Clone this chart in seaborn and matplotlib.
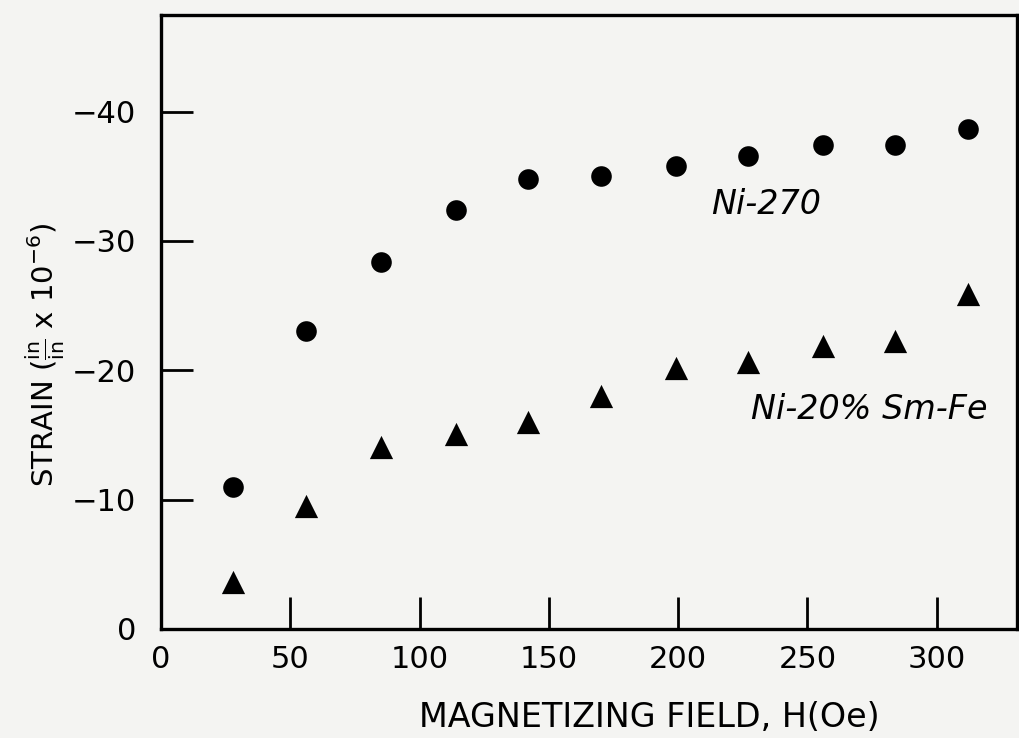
import matplotlib
matplotlib.use("Agg")
import matplotlib.pyplot as plt
import seaborn as sns
import pandas as pd

# Data
field_oe = [28, 56, 85, 114, 142, 170, 199, 227, 256, 284, 312]
ni270_strain = [-11.0, -23.0, -28.4, -32.4, -34.8, -35.0, -35.8, -36.6, -37.4, -37.4, -38.7]
nismfe_strain = [-3.6, -9.5, -14.1, -15.1, -16.0, -18.0, -20.2, -20.6, -21.9, -22.3, -25.9]
series_names = ["Ni-270", "Ni-20% Sm-Fe"]
x_ticks = [0, 50, 100, 150, 200, 250, 300]
y_ticks = [0, -10, -20, -30, -40]

df = pd.DataFrame({
    "H": field_oe * 2,
    "strain": ni270_strain + nismfe_strain,
    "series": [series_names[0]] * len(field_oe) + [series_names[1]] * len(field_oe),
})

sns.set_theme(style="white")
plt.rcParams["font.family"] = ["DejaVu Sans"]
plt.rcParams["text.color"] = "black"
plt.rcParams["axes.labelcolor"] = "black"
bg = "#f4f4f2"
fig = plt.figure(figsize=(10.19, 7.38), dpi=100, facecolor=bg)
ax = fig.add_axes([0.158, 0.148, 0.840, 0.832])
ax.set_facecolor(bg)

sns.scatterplot(data=df[df.series == series_names[0]], x="H", y="strain", ax=ax,
                marker="o", s=220, color="black", edgecolor="black", linewidth=0, legend=False)
sns.scatterplot(data=df[df.series == series_names[1]], x="H", y="strain", ax=ax,
                marker="^", s=280, color="black", edgecolor="black", linewidth=0, legend=False)

ax.set_xlim(0, 331)
ax.set_ylim(0, -47.5)
ax.set_xticks(x_ticks)
ax.set_yticks(y_ticks)
ax.set_xticklabels([str(v) for v in x_ticks])
ax.set_yticklabels(["0", "\u221210", "\u221220", "\u221230", "\u221240"])
ax.tick_params(axis="both", direction="in", length=23, width=2.0, colors="black",
               labelsize=22, bottom=True, left=True)
ax.tick_params(axis="x", pad=12)
ax.tick_params(axis="y", pad=18)
for sp in ax.spines.values():
    sp.set_visible(True)
    sp.set_color("black")
    sp.set_linewidth(2.4)

ax.set_xlabel("MAGNETIZING FIELD, H(Oe)", fontsize=24, color="black", va="center")
ax.xaxis.set_label_coords(0.571, -0.145)
ax.set_ylabel(r"STRAIN ($\frac{\mathrm{in}}{\mathrm{in}}$ x 10$^{-6}$)", fontsize=21,
              color="black", va="center")
ax.yaxis.set_label_coords(-0.135, 0.446)

ax.text(234, -32.8, series_names[0], fontsize=24, style="italic", ha="center", va="center",
        color="black")
ax.text(274, -17.0, series_names[1], fontsize=24, style="italic", ha="center", va="center",
        color="black")

fig.savefig("out.png", dpi=100, facecolor=bg)
